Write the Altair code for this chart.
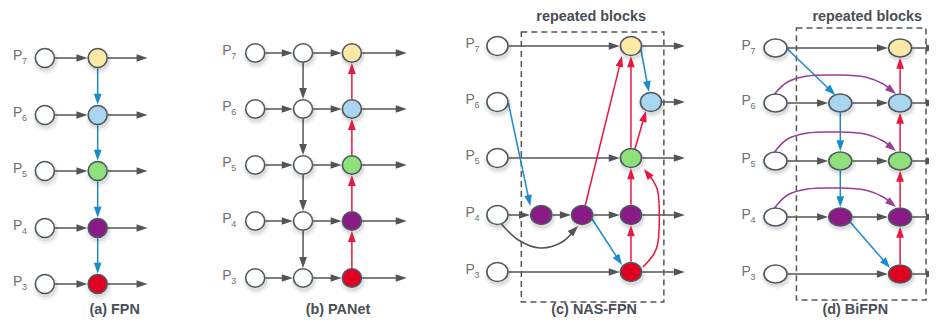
import math
import altair as alt
import pandas as pd

# ---------------- data ----------------
LEVELS = ["7", "6", "5", "4", "3"]
LEVEL_FILL = ["#FDE9A6", "#A9D5EE", "#8EE07B", "#8A1A86", "#E00020"]

ROW_Y_A = [58, 115, 171, 228, 284]
ROW_Y_B = [53, 109, 165, 221, 278]
ROW_Y_C = [46, 102, 158, 215, 272]
ROW_Y_D = [48, 103, 161, 217, 274]

COL_X_A = [45, 98, 148]              # input, fused, output tip
COL_X_B = [256, 304, 353, 408]       # input, top-down, bottom-up, output tip
COL_X_C = [499, 543, 584, 633, 653, 687]
COL_X_D = [778, 843, 903, 940]
LABEL_X = [13, 223, 467, 744]

NODE_RX = [9.5, 9.5, 10.5, 11.5]
NODE_RY = [9.5, 9.2, 9.5, 9.0]

CAPTIONS = ["(a) FPN", "(b) PANet", "(c) NAS-FPN", "(d) BiFPN"]
CAPTION_X = [115, 339, 596, 858]
CAPTION_Y = [314, 314, 314, 314]     # text baselines
BOX_TITLE = ["repeated blocks", "repeated blocks"]
BOX_TITLE_X = [593, 870]
BOX_TITLE_Y = [21, 21]               # text baselines
BOX_X = [523, 799]
BOX_X2 = [666, 929]
BOX_Y = [32, 28]
BOX_Y2 = [302, 300]

EDGE_COLORS = {"gray": "#545454", "blue": "#1B8BCB", "red": "#E8173F", "purple": "#9C3D98"}
NODE_STROKE = "#4E5862"
WHITE = "#FFFFFF"

# curves (catmull-rom through points, arrow at last point)
CURVE_C_GRAY = [(503, 224), (520, 240), (542, 248), (564, 242), (580, 226)]
CURVE_C_RED = [(645, 267), (656, 254), (660, 243), (660, 192), (656, 182), (646, 169)]
CURVE_D_P6 = [(777, 94), (790, 82), (810, 76), (840, 75), (868, 77), (886, 84), (899, 94)]
CURVE_D_P5 = [(777, 152), (790, 139), (810, 133), (840, 132), (868, 134), (886, 141), (899, 151)]
CURVE_D_P4 = [(777, 208), (790, 195), (810, 189), (840, 188), (868, 190), (886, 197), (899, 207)]

# explicit diagonal edges (start, tip, colour)
DIAG_C = [((510, 103), (532, 206), "blue"),
          ((594, 219), (624, 265), "blue"),
          ((587, 206), (624, 56), "red"),
          ((643, 50), (651, 92), "blue"),
          ((637, 149), (648, 111), "red")]
DIAG_D = [((790, 49), (838, 95), "blue"),
          ((852, 221), (893, 268), "blue")]

HEAD_HALF = 5.5
ARROW_PATH = "M0,-1L0.7,1L-0.7,1Z"


def ellipse_path(k):
    return f"M-1,0A1,{k:.3f} 0 1,0 1,0A1,{k:.3f} 0 1,0 -1,0Z"


# ---------------- build node table ----------------
NODES = {}


def add_node(nid, panel, x, y, fill):
    NODES[nid] = dict(x=x, y=y, fill=fill, rx=NODE_RX[panel], ry=NODE_RY[panel], panel=panel)


for i in range(5):
    add_node(f"a_in{i}", 0, COL_X_A[0], ROW_Y_A[i], WHITE)
    add_node(f"a_f{i}", 0, COL_X_A[1], ROW_Y_A[i], LEVEL_FILL[i])
    add_node(f"b_in{i}", 1, COL_X_B[0], ROW_Y_B[i], WHITE)
    add_node(f"b_m{i}", 1, COL_X_B[1], ROW_Y_B[i], WHITE)
    add_node(f"b_f{i}", 1, COL_X_B[2], ROW_Y_B[i], LEVEL_FILL[i])
    add_node(f"c_in{i}", 2, COL_X_C[0], ROW_Y_C[i], WHITE)
    add_node(f"d_in{i}", 3, COL_X_D[0], ROW_Y_D[i], WHITE)
    add_node(f"d_r{i}", 3, COL_X_D[2], ROW_Y_D[i], LEVEL_FILL[i])
for i in (1, 2, 3):
    add_node(f"d_m{i}", 3, COL_X_D[1], ROW_Y_D[i], LEVEL_FILL[i])
add_node("c_p4a", 2, COL_X_C[1], ROW_Y_C[3], LEVEL_FILL[3])
add_node("c_p4b", 2, COL_X_C[2], ROW_Y_C[3], LEVEL_FILL[3])
add_node("c_p4c", 2, COL_X_C[3], ROW_Y_C[3], LEVEL_FILL[3])
add_node("c_r", 2, COL_X_C[3], ROW_Y_C[4], LEVEL_FILL[4])
add_node("c_g", 2, COL_X_C[3], ROW_Y_C[2], LEVEL_FILL[2])
add_node("c_y", 2, COL_X_C[3], ROW_Y_C[0], LEVEL_FILL[0])
add_node("c_b", 2, COL_X_C[4], ROW_Y_C[1], LEVEL_FILL[1])

# ---------------- edges ----------------
EDGES = []
for i in range(5):
    EDGES.append((f"a_in{i}", f"a_f{i}", "gray"))
    EDGES.append((f"a_f{i}", (COL_X_A[2], ROW_Y_A[i]), "gray"))
    EDGES.append((f"b_in{i}", f"b_m{i}", "gray"))
    EDGES.append((f"b_m{i}", f"b_f{i}", "gray"))
    EDGES.append((f"b_f{i}", (COL_X_B[3], ROW_Y_B[i]), "gray"))
for i in range(4):
    EDGES.append((f"a_f{i}", f"a_f{i+1}", "blue"))
    EDGES.append((f"b_m{i}", f"b_m{i+1}", "gray"))
    EDGES.append((f"b_f{i+1}", f"b_f{i}", "red"))
# NAS-FPN
EDGES += [("c_in0", "c_y", "gray"), ("c_y", (COL_X_C[5], ROW_Y_C[0]), "gray"),
          ("c_b", (COL_X_C[5], ROW_Y_C[1]), "gray"),
          ("c_in2", "c_g", "gray"), ("c_g", (COL_X_C[5], ROW_Y_C[2]), "gray"),
          ("c_in3", "c_p4a", "gray"), ("c_p4a", "c_p4b", "gray"), ("c_p4b", "c_p4c", "gray"),
          ("c_p4c", (COL_X_C[5], ROW_Y_C[3]), "gray"),
          ("c_in4", "c_r", "gray"), ("c_r", (COL_X_C[5], ROW_Y_C[4]), "gray"),
          ("c_r", "c_p4c", "red"), ("c_p4c", "c_g", "red"), ("c_g", "c_y", "red")]
EDGES += DIAG_C
# BiFPN
EDGES += [("d_in0", "d_r0", "gray"), ("d_in4", "d_r4", "gray")]
for i in range(5):
    EDGES.append((f"d_r{i}", (COL_X_D[3], ROW_Y_D[i]), "gray"))
for i in (1, 2, 3):
    EDGES.append((f"d_in{i}", f"d_m{i}", "gray"))
    EDGES.append((f"d_m{i}", f"d_r{i}", "gray"))
EDGES += [("d_m1", "d_m2", "blue"), ("d_m2", "d_m3", "blue")]
for i in range(4):
    EDGES.append((f"d_r{i+1}", f"d_r{i}", "red"))
EDGES += DIAG_D

CURVES = [(CURVE_C_GRAY, "gray"), (CURVE_C_RED, "red"),
          (CURVE_D_P6, "purple"), (CURVE_D_P5, "purple"), (CURVE_D_P4, "purple")]


def bdist(n, ux, uy):
    return 1.0 / math.sqrt((ux / n["rx"]) ** 2 + (uy / n["ry"]) ** 2) + 0.8


def angle_of(ux, uy):
    return (math.degrees(math.atan2(ux, -uy)) + 360.0) % 360.0


rules, heads = [], []
for src, dst, col in EDGES:
    sn = NODES.get(src) if isinstance(src, str) else None
    tn = NODES.get(dst) if isinstance(dst, str) else None
    sx, sy = (sn["x"], sn["y"]) if sn else src
    tx, ty = (tn["x"], tn["y"]) if tn else dst
    dx, dy = tx - sx, ty - sy
    L = math.hypot(dx, dy)
    ux, uy = dx / L, dy / L
    if sn:
        d = bdist(sn, ux, uy)
        sx, sy = sx + ux * d, sy + uy * d
    if tn:
        d = bdist(tn, ux, uy)
        tx, ty = tx - ux * d, ty - uy * d
    hx, hy = tx - ux * HEAD_HALF, ty - uy * HEAD_HALF
    rules.append(dict(x=sx, y=sy, x2=hx, y2=hy, color=EDGE_COLORS[col]))
    heads.append(dict(x=hx, y=hy, angle=angle_of(ux, uy), color=EDGE_COLORS[col]))

curve_rows = []
for cid, (pts, col) in enumerate(CURVES):
    (px, py), (qx, qy) = pts[-2], pts[-1]
    L = math.hypot(qx - px, qy - py)
    ux, uy = (qx - px) / L, (qy - py) / L
    hx, hy = qx - ux * HEAD_HALF, qy - uy * HEAD_HALF
    heads.append(dict(x=hx, y=hy, angle=angle_of(ux, uy), color=EDGE_COLORS[col]))
    for k, (x, y) in enumerate(pts[:-1] + [(qx - ux * 3.5, qy - uy * 3.5)]):
        curve_rows.append(dict(x=x, y=y, cid=cid, ord=k, color=EDGE_COLORS[col]))

node_rows = []
for nid, n in NODES.items():
    node_rows.append(dict(x=n["x"], y=n["y"], fill=n["fill"],
                          shape=ellipse_path(n["ry"] / n["rx"]),
                          size=(2 * n["rx"]) ** 2,
                          shadow1=(2 * n["rx"] + 7) ** 2,
                          shadow2=(2 * n["rx"] + 3) ** 2))

label_rows, sub_rows = [], []
for p, rows in enumerate([ROW_Y_A, ROW_Y_B, ROW_Y_C, ROW_Y_D]):
    for i, y in enumerate(rows):
        label_rows.append(dict(x=LABEL_X[p], y=y - 2, t="P"))
        sub_rows.append(dict(x=LABEL_X[p] + 9, y=y + 3, t=LEVELS[i]))

cap_df = pd.DataFrame(dict(x=CAPTION_X, y=CAPTION_Y, t=CAPTIONS))
title_df = pd.DataFrame(dict(x=BOX_TITLE_X, y=BOX_TITLE_Y, t=BOX_TITLE))
box_df = pd.DataFrame(dict(x=BOX_X, x2=BOX_X2, y=BOX_Y, y2=BOX_Y2))
rules_df = pd.DataFrame(rules)
heads_df = pd.DataFrame(heads)
curves_df = pd.DataFrame(curve_rows)
nodes_df = pd.DataFrame(node_rows)
labels_df = pd.DataFrame(label_rows)
subs_df = pd.DataFrame(sub_rows)

# ---------------- chart ----------------
XS = alt.Scale(domain=[8, 932], nice=False, zero=False)
YS = alt.Scale(domain=[8, 318], nice=False, zero=False, reverse=True)
X = alt.X("x:Q", scale=XS, axis=None)
Y = alt.Y("y:Q", scale=YS, axis=None)
FONT = "Liberation Sans"

box = alt.Chart(box_df).mark_rect(fillOpacity=0, stroke="#555555", strokeWidth=1.5,
                                  strokeDash=[6, 4]).encode(
    x=X, x2="x2:Q", y=Y, y2="y2:Q")

edges = alt.Chart(rules_df).mark_rule(strokeWidth=1.5).encode(
    x=X, y=Y, x2="x2:Q", y2="y2:Q", color=alt.Color("color:N", scale=None))

curves = alt.Chart(curves_df).mark_line(strokeWidth=1.5, interpolate="catmull-rom").encode(
    x=X, y=Y, detail="cid:N", order="ord:Q", color=alt.Color("color:N", scale=None))

shadow1 = alt.Chart(nodes_df).mark_point(filled=True, opacity=0.05, color="#000000",
                                         xOffset=1, yOffset=3).encode(
    x=X, y=Y, shape=alt.Shape("shape:N", scale=None), size=alt.Size("shadow1:Q", scale=None))
shadow2 = alt.Chart(nodes_df).mark_point(filled=True, opacity=0.08, color="#000000",
                                         xOffset=1, yOffset=2.5).encode(
    x=X, y=Y, shape=alt.Shape("shape:N", scale=None), size=alt.Size("shadow2:Q", scale=None))

nodes = alt.Chart(nodes_df).mark_point(filled=True, opacity=1, stroke=NODE_STROKE,
                                       strokeWidth=1.6).encode(
    x=X, y=Y, fill=alt.Fill("fill:N", scale=None),
    shape=alt.Shape("shape:N", scale=None), size=alt.Size("size:Q", scale=None))

arrowheads = alt.Chart(heads_df).mark_point(filled=True, opacity=1, shape=ARROW_PATH,
                                            size=HEAD_HALF * HEAD_HALF * 4, strokeWidth=0).encode(
    x=X, y=Y, angle=alt.Angle("angle:Q", scale=None), fill=alt.Fill("color:N", scale=None))

labels = alt.Chart(labels_df).mark_text(font=FONT, fontSize=14, color="#707070",
                                        align="left", baseline="middle").encode(x=X, y=Y, text="t:N")
subs = alt.Chart(subs_df).mark_text(font=FONT, fontSize=9, color="#707070",
                                    align="left", baseline="middle").encode(x=X, y=Y, text="t:N")
caps = alt.Chart(cap_df).mark_text(font=FONT, fontSize=14.4, fontWeight="bold", color="#484F56",
                                   align="center", baseline="alphabetic").encode(x=X, y=Y, text="t:N")
titles = alt.Chart(title_df).mark_text(font=FONT, fontSize=14.4, fontWeight="bold", color="#484F56",
                                       align="center", baseline="alphabetic").encode(x=X, y=Y, text="t:N")

chart = alt.layer(box, edges, curves, shadow1, shadow2, nodes, arrowheads,
                  labels, subs, caps, titles).properties(
    width=921, height=310, padding=0,
    autosize=alt.AutoSizeParams(type="none"),
    background="white",
).configure_view(strokeWidth=0)

chart.save("out.html", embed_options={"renderer": "svg", "actions": False})
